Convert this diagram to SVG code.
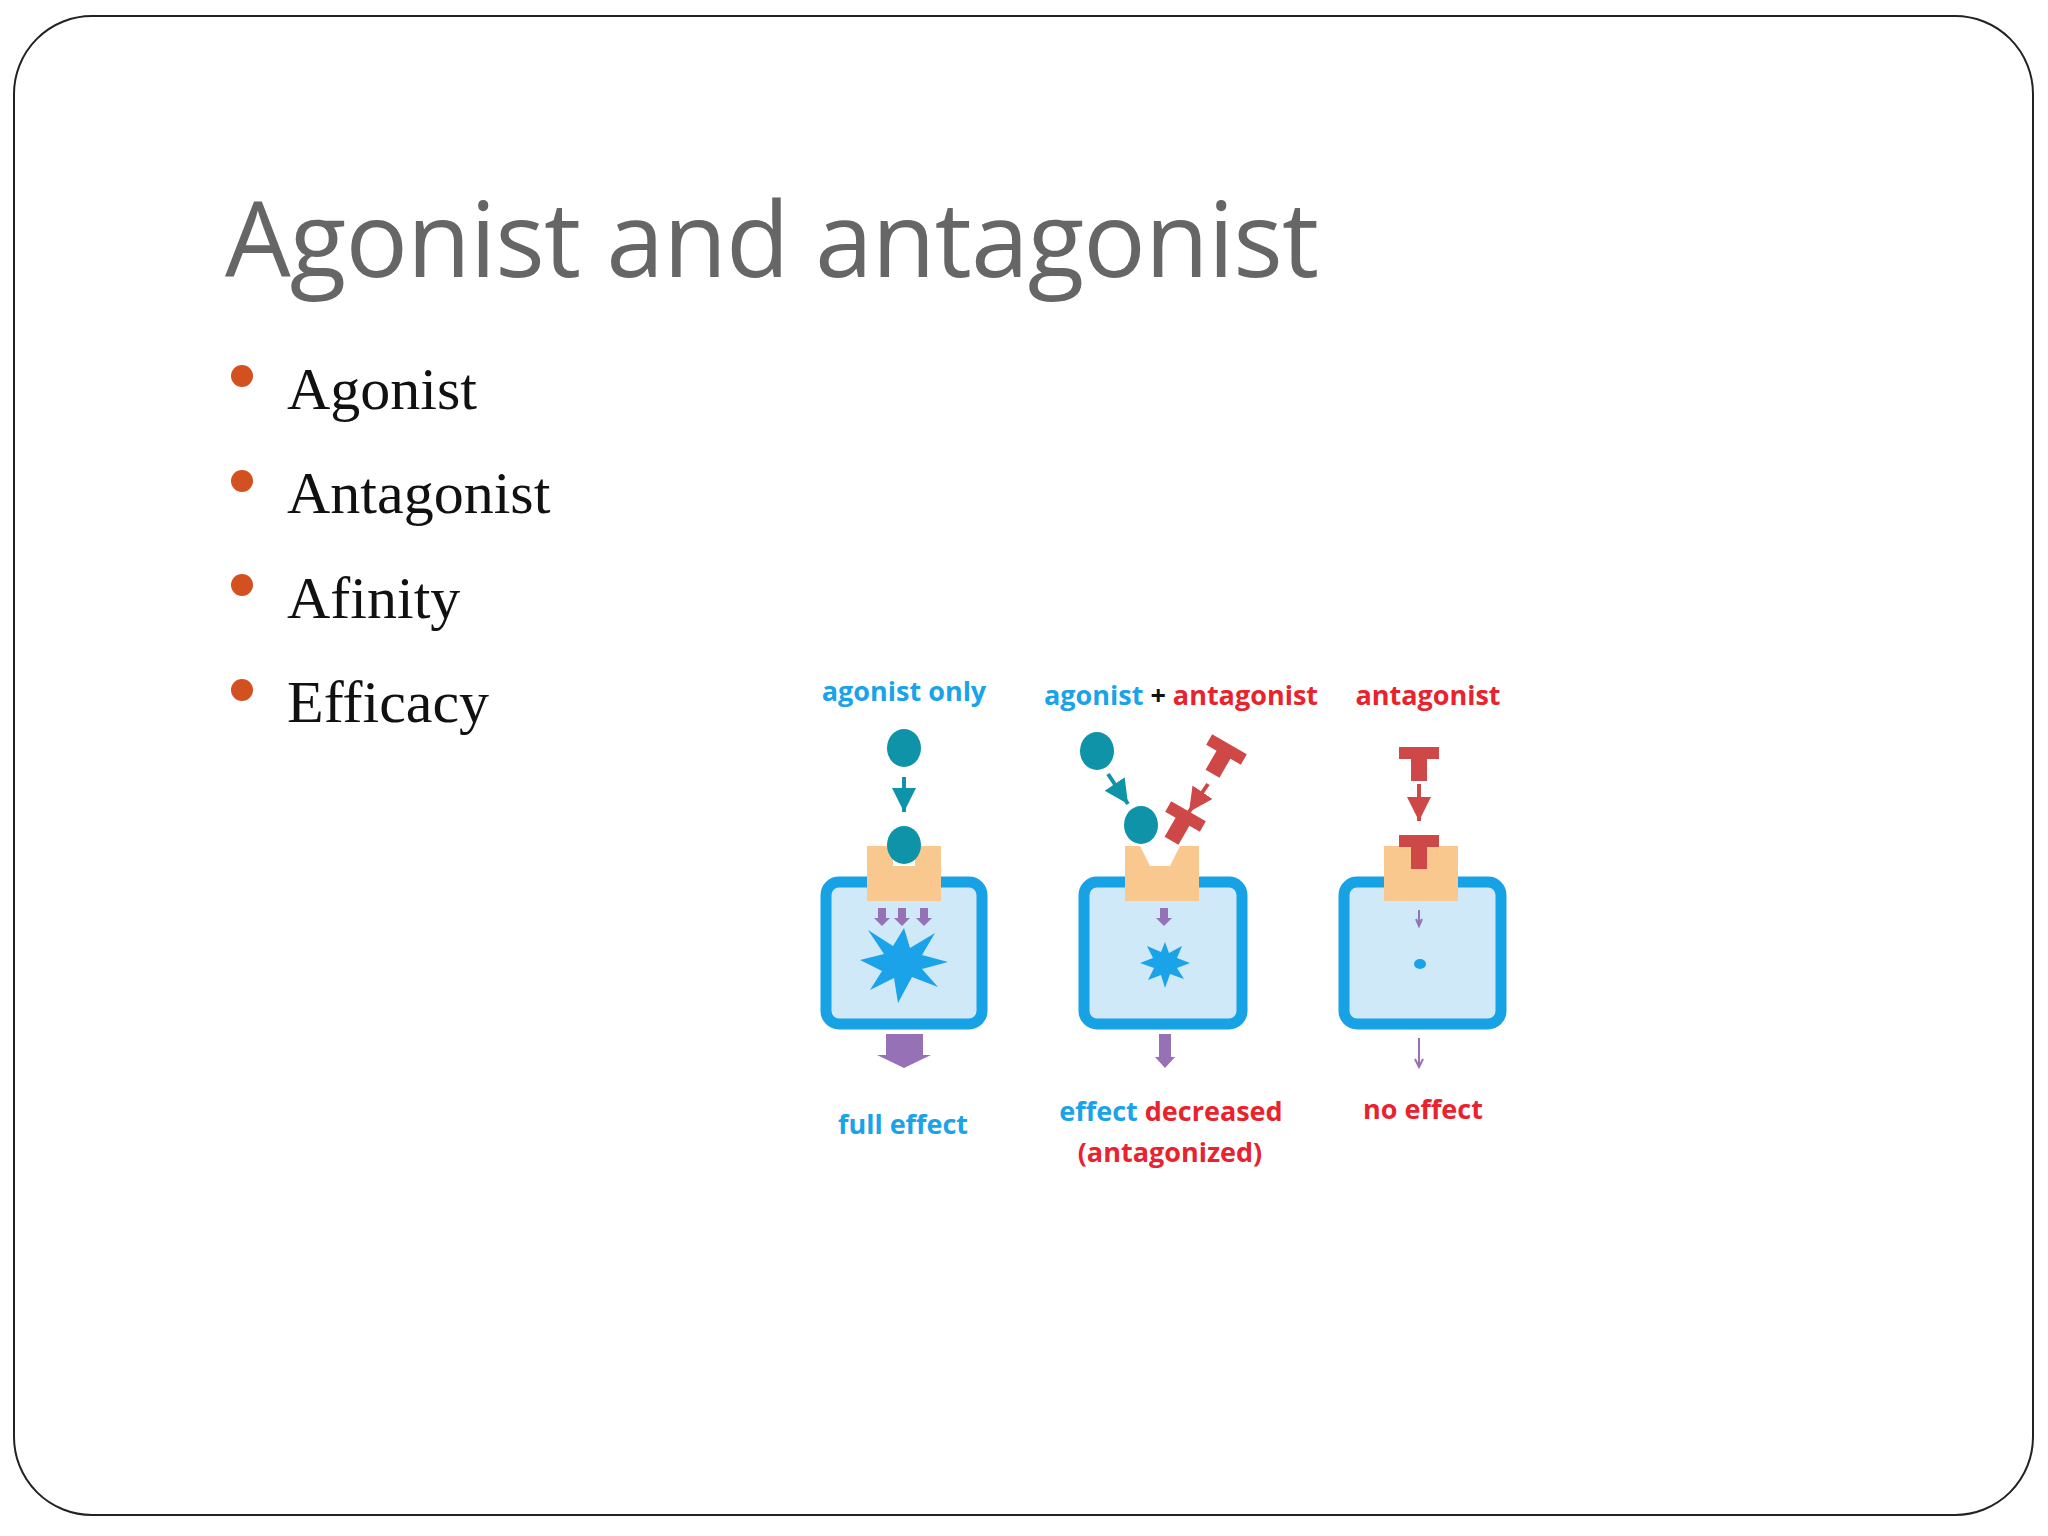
<svg xmlns="http://www.w3.org/2000/svg" width="2048" height="1536" viewBox="0 0 2048 1536">
<style>
.bul{font-family:"Liberation Serif",serif;font-size:60px;fill:#111}
.lab{font-family:"Open Sans","Liberation Sans",sans-serif;font-weight:700;font-size:27px;text-anchor:middle}
.b{fill:#1aa3e8}.r{fill:#e8232d}
.box{fill:#cfe9f8;stroke:#18a2e6;stroke-width:11}
.rec{fill:#f9c88e}
.ag{fill:#0e93a8}
.ant{fill:#cf4848}
.pu{fill:#9771b5}
</style>
<defs>
<marker id="ta" markerWidth="8" markerHeight="8" refX="6" refY="4" orient="auto" markerUnits="strokeWidth"><path d="M0,1 L6,4 L0,7 Z" fill="#0e93a8"/></marker>
<marker id="ra" markerWidth="8" markerHeight="8" refX="6" refY="4" orient="auto" markerUnits="strokeWidth"><path d="M0,1 L6,4 L0,7 Z" fill="#cf4848"/></marker>
<g id="T"><path d="M-20,-17 H20 V-5 H8 V17 H-8 V-5 H-20 Z"/></g>
</defs>
<rect x="14" y="16" width="2019" height="1499" rx="78" fill="#fff" stroke="#222" stroke-width="2"/>
<text x="225" y="277" font-family="'Open Sans','Liberation Sans',sans-serif" font-size="104" fill="#666" textLength="1094">Agonist and antagonist</text>
<g id="bullets">
<circle cx="242" cy="376" r="11" fill="#d35020"/><text class="bul" x="287" y="409">Agonist</text>
<circle cx="242" cy="481" r="11" fill="#d35020"/><text class="bul" x="287" y="513">Antagonist</text>
<circle cx="242" cy="585" r="11" fill="#d35020"/><text class="bul" x="287" y="618">Afinity</text>
<circle cx="242" cy="690" r="11" fill="#d35020"/><text class="bul" x="287" y="722">Efficacy</text>
</g>
<g id="panel1">
<text class="lab b" x="904" y="701">agonist only</text>
<rect class="box" x="826" y="882" width="156" height="142" rx="13"/>
<path class="rec" d="M867,846 H893 V866 H915 V846 H941 V901 H867 Z"/>
<ellipse class="ag" cx="904" cy="748" rx="17" ry="19"/>
<ellipse class="ag" cx="904" cy="845" rx="17" ry="19"/>
<path class="pu" d="M878,908 h8 v10 h4 l-8,8 l-8,-8 h4z M898,908 h8 v10 h4 l-8,8 l-8,-8 h4z M920,908 h8 v10 h4 l-8,8 l-8,-8 h4z"/>
<path class="pu" d="M886,1034 H923 V1055 H931 L904,1068 L877,1055 H886 Z"/>
<polygon class="b" points="904,928 910,948 935,933 922,955 948,962 922,969 938,987 912,977 898,1003 894,978 870,990 882,971 860,960 884,954 868,930 893,946"/>
<text class="lab b" x="903" y="1134">full effect</text>
</g>
<g id="panel2">
<text class="lab" x="1181" y="705"><tspan class="b">agonist</tspan><tspan fill="#111"> + </tspan><tspan class="r">antagonist</tspan></text>
<rect class="box" x="1084" y="882" width="158" height="142" rx="13"/>
<path class="rec" d="M1125,846 H1140 L1150,866 H1170 L1180,846 H1199 V901 H1125 Z"/>
<ellipse class="ag" cx="1097" cy="751" rx="17" ry="19"/>
<ellipse class="ag" cx="1141" cy="825" rx="17" ry="19"/>
<use href="#T" class="ant" transform="translate(1221,759) rotate(30)"/>
<use href="#T" class="ant" transform="translate(1180,826) rotate(30)"/>
<path class="pu" d="M1160,908 h8 v10 h4 l-8,8 l-8,-8 h4z"/>
<path class="pu" d="M1159,1034 H1171 V1057 H1175 L1165,1068 L1155,1057 H1159 Z"/>
<polygon class="b" points="1165,942 1169,953 1182,946 1177,958 1190,963 1177,968 1184,979 1170,974 1165,988 1161,975 1148,980 1154,968 1140,963 1153,958 1147,946 1161,952"/>
<text class="lab" x="1171" y="1121"><tspan class="b">effect</tspan><tspan class="r"> decreased</tspan></text>
<text class="lab r" x="1170" y="1162">(antagonized)</text>
</g>
<g id="panel3">
<text class="lab r" x="1428" y="705">antagonist</text>
<rect class="box" x="1344" y="882" width="157" height="142" rx="13"/>
<path class="rec" d="M1384,846 H1458 V901 H1384 Z"/>
<use href="#T" class="ant" transform="translate(1419,764)"/>
<use href="#T" class="ant" transform="translate(1419,852)"/>
<ellipse cx="1420" cy="964" rx="6" ry="5" fill="#1aa3e8"/>
<text class="lab r" x="1423" y="1119">no effect</text>
</g>
<g id="connectors" fill="none" stroke-width="4">
<line x1="904" y1="777" x2="904" y2="812" stroke="#0e93a8" marker-end="url(#ta)"/>
<line x1="1108" y1="774" x2="1128" y2="804" stroke="#0e93a8" marker-end="url(#ta)"/>
<line x1="1208" y1="784" x2="1189" y2="812" stroke="#cf4848" marker-end="url(#ra)"/>
<line x1="1419" y1="784" x2="1419" y2="821" stroke="#cf4848" marker-end="url(#ra)"/>
<line x1="1419" y1="910" x2="1419" y2="925" stroke="#9771b5" stroke-width="2"/>
<path d="M1416,919 L1419,926 L1422,919" stroke="#9771b5" stroke-width="2"/>
<line x1="1419" y1="1038" x2="1419" y2="1066" stroke="#9771b5" stroke-width="2"/>
<path d="M1415,1059 L1419,1067 L1423,1059" stroke="#9771b5" stroke-width="2"/>
</g>
</svg>
